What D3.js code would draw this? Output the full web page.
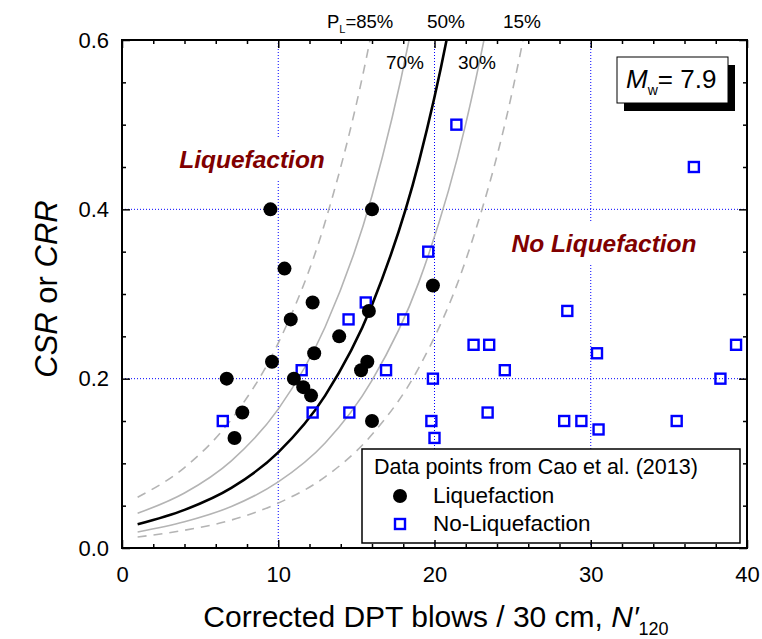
<!DOCTYPE html>
<html><head><meta charset="utf-8">
<script src="https://cdn.jsdelivr.net/npm/d3@7"></script>
<style>
body{margin:0;background:#fff}
text{font-family:"Liberation Sans",Arial,Helvetica,sans-serif;fill:#000}
</style>
</head><body>
<svg id="chart" width="762" height="639"></svg>
<script>
// ---------- data ----------
const xTicks = [0, 10, 20, 30, 40];
const yTicks = [0.0, 0.2, 0.4, 0.6];
const xMinor = [2,4,6,8,12,14,16,18,22,24,26,28,32,34,36,38];
const yMinor = [0.05,0.1,0.15,0.25,0.3,0.35,0.45,0.5,0.55];

const liqN   = [9.5, 16.0, 10.4, 19.9, 12.2, 10.8, 15.8, 13.9, 12.3, 9.6, 15.7, 15.3, 6.7, 11.0, 11.6, 12.1, 7.7, 7.2, 16.0];
const liqCRR = [0.40, 0.40, 0.33, 0.31, 0.29, 0.27, 0.28, 0.25, 0.23, 0.22, 0.22, 0.21, 0.20, 0.20, 0.19, 0.18, 0.16, 0.13, 0.15];

const noLiqN   = [6.45, 11.5, 12.2, 14.55, 14.5, 15.6, 16.9, 18.0, 19.6, 19.9, 19.8, 20.0, 21.4, 22.5, 23.5, 23.4, 24.5, 28.5, 28.3, 29.4, 30.4, 30.5, 35.5, 36.6, 38.3, 39.3];
const noLiqCRR = [0.15, 0.21, 0.16, 0.16, 0.27, 0.29, 0.21, 0.27, 0.35, 0.20, 0.15, 0.13, 0.50, 0.24, 0.24, 0.16, 0.21, 0.28, 0.15, 0.15, 0.23, 0.14, 0.15, 0.45, 0.20, 0.24];

// probability curves (N'120, CRR)
const curveN85  = [1, 4, 7, 10, 13, 16, 17.5];
const curveC85  = [0.060, 0.095, 0.152, 0.242, 0.385, 0.612, 0.77];
const curveN70  = [1, 4, 7, 10, 13, 16, 18.5, 20];
const curveC70  = [0.041, 0.065, 0.103, 0.164, 0.261, 0.416, 0.612, 0.77];
const curveN50  = [1, 4, 7, 10, 13, 16, 19, 21, 22];
const curveC50  = [0.028, 0.045, 0.071, 0.113, 0.180, 0.287, 0.456, 0.622, 0.73];
const curveN30  = [1, 4, 7, 10, 13, 16, 19, 22, 23.5, 25];
const curveC30  = [0.019, 0.031, 0.049, 0.078, 0.124, 0.198, 0.314, 0.501, 0.632, 0.80];
const curveN15  = [1, 4, 7, 10, 13, 16, 19, 22, 25, 26, 27];
const curveC15  = [0.013, 0.021, 0.033, 0.053, 0.084, 0.134, 0.213, 0.340, 0.541, 0.632, 0.74];

const curveLabelsTop = ["50%", "15%"];
const curveLabelsIn  = ["70%", "30%"];

// ---------- layout ----------
const svg = d3.select("#chart");
const L = 122, R = 747, T = 40, B = 548;
const x = d3.scaleLinear().domain([0, 40]).range([L, R]);
const y = d3.scaleLinear().domain([0, 0.6]).range([B, T]);

svg.append("defs").append("clipPath").attr("id","plotclip")
  .append("rect").attr("x",L).attr("y",T).attr("width",R-L).attr("height",B-T);

// grid
const grid = svg.append("g");
[10,20,30].forEach(v => grid.append("line")
  .attr("x1",x(v)).attr("x2",x(v)).attr("y1",T).attr("y2",B)
  .attr("stroke","#0000ff").attr("stroke-width",1).attr("stroke-dasharray","1,2"));
[0.2,0.4].forEach(v => grid.append("line")
  .attr("x1",L).attr("x2",R).attr("y1",y(v)).attr("y2",y(v))
  .attr("stroke","#0000ff").attr("stroke-width",1).attr("stroke-dasharray","1,2"));

// region label backgrounds
svg.append("rect").attr("x",170).attr("y",138).attr("width",165).attr("height",43).attr("fill","#fff");
svg.append("rect").attr("x",500).attr("y",222).attr("width",206).attr("height",41).attr("fill","#fff");

// curves
const line = d3.line().x(d=>x(d[0])).y(d=>y(d[1])).curve(d3.curveMonotoneX);
const cg = svg.append("g").attr("clip-path","url(#plotclip)");
function curve(ns, cs, stroke, w, dash){
  cg.append("path").datum(ns.map((n,i)=>[n,cs[i]]))
    .attr("d",line).attr("fill","none").attr("stroke",stroke)
    .attr("stroke-width",w).attr("stroke-dasharray",dash||null);
}
curve(curveN85, curveC85, "#b4b4b4", 1.6, "9,7");
curve(curveN15, curveC15, "#b4b4b4", 1.6, "9,7");
curve(curveN70, curveC70, "#b4b4b4", 1.6);
curve(curveN30, curveC30, "#b4b4b4", 1.6);
curve(curveN50, curveC50, "#000", 2.6);

// region labels
svg.append("text").attr("x",252).attr("y",168).attr("text-anchor","middle")
  .style("font-size","24.5px").style("font-weight","bold").style("font-style","italic")
  .style("fill","#800000").text("Liquefaction");
svg.append("text").attr("x",604).attr("y",252).attr("text-anchor","middle")
  .style("font-size","24.5px").style("font-weight","bold").style("font-style","italic")
  .style("fill","#800000").text("No Liquefaction");

// curve labels
const pl = svg.append("text").attr("x",327).attr("y",28).style("font-size","18.5px");
pl.append("tspan").text("P");
pl.append("tspan").attr("dy",5).style("font-size","11px").text("L");
pl.append("tspan").attr("dy",-5).text("=85%");
svg.append("text").attr("x",446).attr("y",28).attr("text-anchor","middle").style("font-size","19px").text(curveLabelsTop[0]);
svg.append("text").attr("x",522).attr("y",28).attr("text-anchor","middle").style("font-size","19px").text(curveLabelsTop[1]);
svg.append("text").attr("x",405).attr("y",69).attr("text-anchor","middle").style("font-size","19px").text(curveLabelsIn[0]);
svg.append("text").attr("x",477).attr("y",69).attr("text-anchor","middle").style("font-size","19px").text(curveLabelsIn[1]);

// points
const pg = svg.append("g");
pg.selectAll("rect.nl").data(noLiqN.map((n,i)=>[n,noLiqCRR[i]])).enter().append("rect")
  .attr("x",d=>x(d[0])-5).attr("y",d=>y(d[1])-5).attr("width",10).attr("height",10)
  .attr("fill","none").attr("stroke","#0000ff").attr("stroke-width",2.4);
pg.selectAll("circle").data(liqN.map((n,i)=>[n,liqCRR[i]])).enter().append("circle")
  .attr("cx",d=>x(d[0])).attr("cy",d=>y(d[1])).attr("r",7).attr("fill","#000");

// legend
const lg = svg.append("g");
lg.append("rect").attr("x",362).attr("y",449).attr("width",378).attr("height",94)
  .attr("fill","#fff").attr("stroke","#000").attr("stroke-width",1.5);
lg.append("text").attr("x",374).attr("y",474).style("font-size","21.5px").text("Data points from Cao et al. (2013)");
lg.append("circle").attr("cx",400).attr("cy",496).attr("r",7).attr("fill","#000");
lg.append("text").attr("x",433).attr("y",503).style("font-size","22.5px").text("Liquefaction");
lg.append("rect").attr("x",395).attr("y",519).attr("width",10).attr("height",10)
  .attr("fill","none").attr("stroke","#0000ff").attr("stroke-width",2.4);
lg.append("text").attr("x",433).attr("y",531).style("font-size","22.5px").text("No-Liquefaction");

// Mw box
const mg = svg.append("g");
mg.append("rect").attr("x",624).attr("y",65).attr("width",111).attr("height",46).attr("fill","#000");
mg.append("rect").attr("x",617).attr("y",57).attr("width",111).attr("height",46)
  .attr("fill","#fff").attr("stroke","#000").attr("stroke-width",1);
const mt = mg.append("text").attr("x",626).attr("y",88).style("font-size","26px");
mt.append("tspan").style("font-style","italic").text("M");
mt.append("tspan").attr("dy",7).style("font-size","14px").text("w");
mt.append("tspan").attr("dy",-7).text("= 7.9");

// axes (inward ticks on all sides)
function styleAxis(g){
  g.select(".domain").remove();
  g.selectAll(".tick line").attr("stroke","#000").attr("stroke-width",1.5);
  g.selectAll("text").style("font-size","22px").style("font-family",'"Liberation Sans",Arial,sans-serif');
}
svg.append("g").attr("transform",`translate(0,${B})`)
  .call(d3.axisBottom(x).tickValues(xTicks).tickSize(-8).tickPadding(18).tickFormat(d3.format("d"))).call(styleAxis);
svg.append("g").attr("transform",`translate(0,${B})`)
  .call(d3.axisBottom(x).tickValues(xMinor).tickSize(-4).tickFormat("")).call(styleAxis);
svg.append("g").attr("transform",`translate(0,${T})`)
  .call(d3.axisTop(x).tickValues(xTicks).tickSize(-8).tickFormat("")).call(styleAxis);
svg.append("g").attr("transform",`translate(0,${T})`)
  .call(d3.axisTop(x).tickValues(xMinor).tickSize(-4).tickFormat("")).call(styleAxis);
svg.append("g").attr("transform",`translate(${L},0)`)
  .call(d3.axisLeft(y).tickValues(yTicks).tickSize(-8).tickPadding(13).tickFormat(d3.format(".1f"))).call(styleAxis);
svg.append("g").attr("transform",`translate(${L},0)`)
  .call(d3.axisLeft(y).tickValues(yMinor).tickSize(-4).tickFormat("")).call(styleAxis);
svg.append("g").attr("transform",`translate(${R},0)`)
  .call(d3.axisRight(y).tickValues(yTicks).tickSize(-8).tickFormat("")).call(styleAxis);
svg.append("g").attr("transform",`translate(${R},0)`)
  .call(d3.axisRight(y).tickValues(yMinor).tickSize(-4).tickFormat("")).call(styleAxis);

svg.append("rect").attr("x",L).attr("y",T).attr("width",R-L).attr("height",B-T)
  .attr("fill","none").attr("stroke","#000").attr("stroke-width",2);

// axis titles
const xt = svg.append("text").attr("x",436).attr("y",627).attr("text-anchor","middle").style("font-size","30px");
xt.append("tspan").text("Corrected DPT blows / 30 cm, ");
xt.append("tspan").style("font-style","italic").text("N\u2032");
xt.append("tspan").attr("dy",8).style("font-size","18px").text("120");

const yt = svg.append("text").attr("transform","translate(57,289) rotate(-90)")
  .attr("text-anchor","middle").style("font-size","31px");
yt.append("tspan").style("font-style","italic").text("CSR");
yt.append("tspan").text(" or ");
yt.append("tspan").style("font-style","italic").text("CRR");
</script>
</body></html>
